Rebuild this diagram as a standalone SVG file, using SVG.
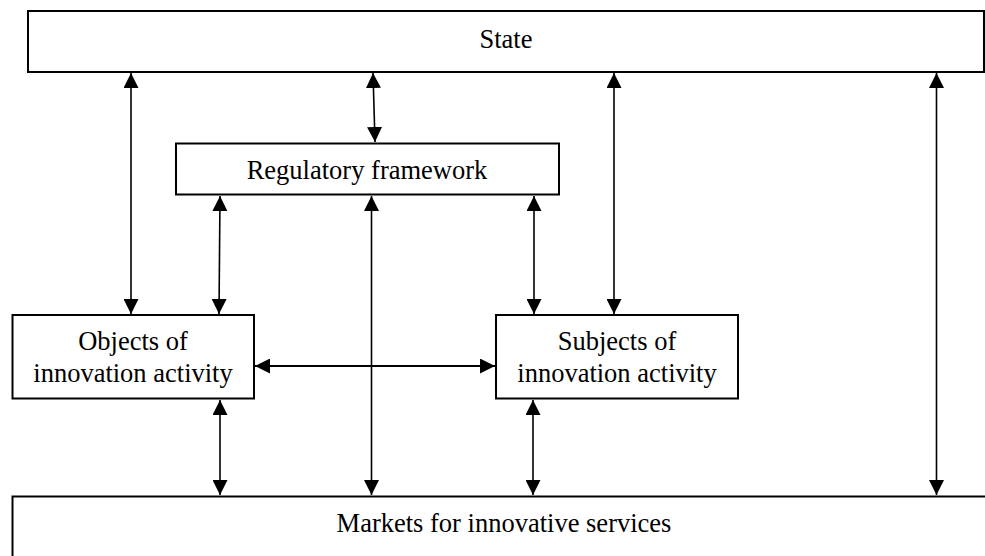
<svg xmlns="http://www.w3.org/2000/svg" width="985" height="556" viewBox="0 0 985 556">
<style>
.box{fill:#fff;stroke:#000;stroke-width:2}
.lbl{font-family:"Liberation Serif","Times New Roman",serif;font-size:26.5px;fill:#000;text-anchor:middle}
.con{stroke:#000;stroke-width:1.6;fill:none;marker-start:url(#ah);marker-end:url(#ah)}
</style>
<defs>
<marker id="ah" markerUnits="userSpaceOnUse" markerWidth="16" markerHeight="15" refX="15" refY="7.5" orient="auto-start-reverse" viewBox="0 0 16 15">
<path d="M0,0 L15,7.5 L0,15 z" fill="#000"/>
</marker>
</defs>
<rect width="985" height="556" fill="#fff"/>
<g id="connectors">
<line class="con" x1="131" y1="73" x2="131" y2="314"/>
<line class="con" x1="373" y1="73" x2="375" y2="142"/>
<line class="con" x1="614" y1="73" x2="614" y2="314"/>
<line class="con" x1="936.5" y1="73" x2="936.5" y2="495"/>
<line class="con" x1="220" y1="196" x2="219" y2="314"/>
<line class="con" x1="371.5" y1="196" x2="371.5" y2="495"/>
<line class="con" x1="534" y1="196" x2="534" y2="314"/>
<line class="con" x1="255" y1="366" x2="495" y2="366" style="stroke-width:2"/>
<line class="con" x1="220" y1="400" x2="220" y2="495"/>
<line class="con" x1="533" y1="400" x2="533" y2="495"/>
</g>
<g id="state">
<rect class="box" x="28" y="11" width="956" height="61"/>
<text class="lbl" x="506" y="48">State</text>
</g>
<g id="regulatory">
<rect class="box" x="176" y="143.5" width="383" height="51"/>
<text class="lbl" x="367" y="179">Regulatory framework</text>
</g>
<g id="objects">
<rect class="box" x="12.5" y="315" width="241.5" height="83.5"/>
<text class="lbl" x="133" y="350">Objects of</text>
<text class="lbl" x="133" y="381.5">innovation activity</text>
</g>
<g id="subjects">
<rect class="box" x="496" y="315" width="242" height="83.5"/>
<text class="lbl" x="617" y="350">Subjects of</text>
<text class="lbl" x="617" y="381.5">innovation activity</text>
</g>
<g id="markets">
<rect class="box" x="12.5" y="496.5" width="1000" height="100"/>
<text class="lbl" x="504" y="531.5">Markets for innovative services</text>
</g>
</svg>
